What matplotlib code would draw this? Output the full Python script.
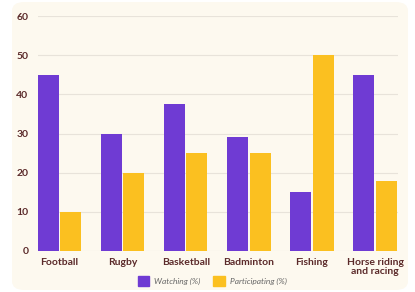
import numpy as np
import matplotlib.pyplot as plt
from matplotlib.patches import FancyBboxPatch, Patch

sports = ["Football", "Rugby", "Basketball", "Badminton", "Fishing", "Horse riding\nand racing"]
watching = [45, 30, 37.5, 29, 15, 45]
participating = [10, 20, 25, 25, 50, 18]
yticks = [0, 10, 20, 30, 40, 50, 60]

purple = "#6f3bd3"
yellow = "#fbc020"
text_col = "#5b2a2a"

plt.rcParams['font.family'] = ['Lato', 'DejaVu Sans']

fig = plt.figure(figsize=(4.15, 2.92), dpi=100)
fig.patch.set_facecolor("white")

# cream card behind the chart
bg = fig.add_axes([0, 0, 1, 1], zorder=-5)
bg.axis("off")
bg.set_xlim(0, 1)
bg.set_ylim(0, 1)
bg.add_patch(FancyBboxPatch((12 / 415, 2 / 292), 396 / 415, 288 / 292,
                            boxstyle="round,pad=0,rounding_size=0.03",
                            facecolor="#fdf9ef", edgecolor="none"))

ax = fig.add_axes([38 / 415, 1 - 251 / 292, 360 / 415, 235 / 292])
ax.set_facecolor("none")

x = np.arange(len(sports))
w = 21 / 63
ax.bar(x - w / 2 - 0.01, watching, w, color=purple, zorder=3)
ax.bar(x + w / 2 + 0.01, participating, w, color=yellow, zorder=3)

ax.set_xlim(-w - 0.01, len(sports) - 1 + w + 0.03)
ax.set_ylim(0, 60)
ax.set_yticks(yticks)
ax.set_xticks(x)
ax.set_xticklabels(sports, fontsize=7.5, color=text_col, fontweight="bold", linespacing=1.0)
ax.tick_params(axis="y", labelsize=7.5, labelcolor=text_col, length=0, pad=7)
ax.tick_params(axis="x", length=0, pad=5)
for lbl in ax.get_yticklabels():
    lbl.set_fontweight("bold")
ax.grid(axis="y", color="#e8e3da", linewidth=0.8, zorder=0)
for s in ax.spines.values():
    s.set_visible(False)

handles = [Patch(color=purple, label="Watching (%)"),
           Patch(color=yellow, label="Participating (%)")]
leg = fig.legend(handles=handles, loc="center", bbox_to_anchor=(212 / 415, 1 - 281 / 292),
                 ncol=2, frameon=False, fontsize=6, handlelength=1.4, handleheight=1.4,
                 columnspacing=1.5, handletextpad=0.6)
for t in leg.get_texts():
    t.set_color("#666666")
    t.set_fontstyle("italic")

fig.savefig("out.png", dpi=100)
